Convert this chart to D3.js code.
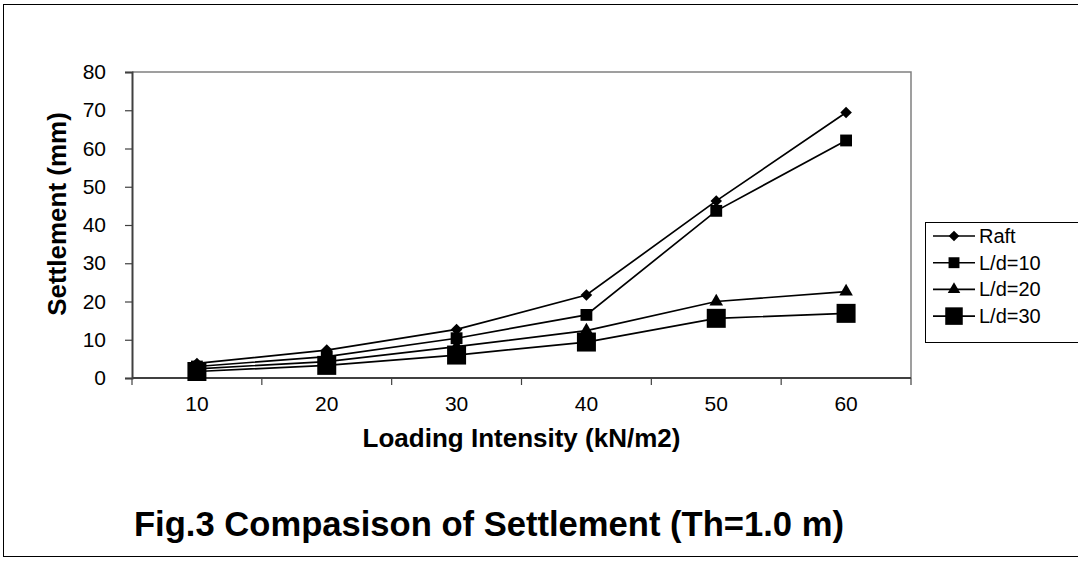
<!DOCTYPE html>
<html>
<head>
<meta charset="utf-8">
<script src="https://cdn.jsdelivr.net/npm/d3@7"></script>
<style>
  body { margin: 0; background: #fff; }
  svg text { font-family: "Liberation Sans", Arial, sans-serif; fill: #000; }
</style>
</head>
<body>
<svg id="mainFrame"></svg>
<script>
const loads = [10, 20, 30, 40, 50, 60]
const raft = [3.8, 7.3, 12.7, 21.7, 46.3, 69.4]
const ld10 = [3.0, 5.6, 10.4, 16.5, 43.7, 62.1]
const ld20 = [2.4, 4.3, 8.2, 12.4, 20.0, 22.6]
const ld30 = [1.7, 3.3, 6.0, 9.4, 15.6, 16.9]
const seriesNames = ['Raft', 'L/d=10', 'L/d=20', 'L/d=30']
const yTicks = [0, 10, 20, 30, 40, 50, 60, 70, 80]

const W = 1078, H = 561
const svg = d3.select('#mainFrame')
    .attr('width', W)
    .attr('height', H)

// outer frame
svg.append('rect')
    .attr('x', 3.5).attr('y', 4.5)
    .attr('width', W).attr('height', 552)
    .attr('fill', 'none').attr('stroke', '#000').attr('stroke-width', 1)

const plot = {left: 132, right: 911, top: 72, bottom: 378}

const x = d3.scaleBand()
    .domain(loads)
    .range([plot.left, plot.right])
const y = d3.scaleLinear()
    .domain([0, 80])
    .range([plot.bottom, plot.top])

// plot area border (top + right)
svg.append('path')
    .attr('d', `M${plot.left},${plot.top}H${plot.right}V${plot.bottom}`)
    .attr('fill', 'none').attr('stroke', '#808080').attr('stroke-width', 1.5)

// y axis
const yAxis = svg.append('g')
    .attr('transform', `translate(${plot.left},0)`)
    .call(d3.axisLeft(y).tickValues(yTicks).tickSize(7).tickPadding(19))
yAxis.select('.domain').attr('stroke', '#404040').attr('stroke-width', 2)
yAxis.selectAll('.tick line').attr('stroke', '#404040').attr('stroke-width', 1.2)
yAxis.selectAll('text').attr('font-size', 21)

// x axis: ticks between categories
const xAxis = svg.append('g')
    .attr('transform', `translate(0,${plot.bottom})`)
xAxis.append('line')
    .attr('x1', plot.left).attr('x2', plot.right)
    .attr('stroke', '#404040').attr('stroke-width', 2)
const bounds = loads.map(d => x(d)).concat([plot.right])
xAxis.selectAll('.xtick')
    .data(bounds)
    .join('line')
    .attr('class', 'xtick')
    .attr('x1', d => d).attr('x2', d => d)
    .attr('y1', 0).attr('y2', 7)
    .attr('stroke', '#404040').attr('stroke-width', 1.2)
xAxis.selectAll('.xlab')
    .data(loads)
    .join('text')
    .attr('class', 'xlab')
    .attr('x', d => x(d) + x.bandwidth() / 2)
    .attr('y', 33)
    .attr('text-anchor', 'middle')
    .attr('font-size', 21)
    .text(d => d)

// axis titles
svg.append('text')
    .attr('x', (plot.left + plot.right) / 2)
    .attr('y', 447)
    .attr('text-anchor', 'middle')
    .attr('font-size', 26)
    .attr('font-weight', 'bold')
    .text('Loading Intensity (kN/m2)')
svg.append('text')
    .attr('transform', 'translate(66,214) rotate(-90)')
    .attr('text-anchor', 'middle')
    .attr('font-size', 26)
    .attr('font-weight', 'bold')
    .text('Settlement (mm)')

// caption
svg.append('text')
    .attr('x', 134)
    .attr('y', 536)
    .attr('font-size', 34.6)
    .attr('font-weight', 'bold')
    .text('Fig.3 Compasison of Settlement (Th=1.0 m)')

// series
const cx = d => x(d) + x.bandwidth() / 2
const symbols = [
    {type: d3.symbolDiamond2, size: 85},
    {type: d3.symbolSquare, size: 140},
    {type: d3.symbolTriangle, size: 80},
    {type: d3.symbolSquare, size: 361}
]
const allSeries = [raft, ld10, ld20, ld30].map((vals, i) => ({
    name: seriesNames[i],
    values: vals.map((v, j) => ({load: loads[j], v: v})),
    sym: symbols[i]
}))

const line = d3.line()
    .x(d => cx(d.load))
    .y(d => y(d.v))

allSeries.forEach(s => {
    svg.append('path')
        .datum(s.values)
        .attr('d', line)
        .attr('fill', 'none')
        .attr('stroke', '#000')
        .attr('stroke-width', 1.7)
})
allSeries.forEach(s => {
    svg.append('g').selectAll('path')
        .data(s.values)
        .join('path')
        .attr('transform', d => `translate(${cx(d.load)},${y(d.v)})`)
        .attr('d', d3.symbol(s.sym.type, s.sym.size))
        .attr('fill', '#000')
})

// legend
const legend = svg.append('g').attr('transform', 'translate(925,222)')
legend.append('rect')
    .attr('x', 0.5).attr('y', 0.5)
    .attr('width', 160).attr('height', 120)
    .attr('fill', '#fff').attr('stroke', '#000').attr('stroke-width', 1)
const entry = legend.selectAll('g.entry')
    .data(allSeries)
    .join('g')
    .attr('class', 'entry')
    .attr('transform', (d, i) => `translate(0,${14 + i * 26.7})`)
entry.append('line')
    .attr('x1', 8).attr('x2', 50)
    .attr('stroke', '#000').attr('stroke-width', 1.6)
entry.append('path')
    .attr('transform', 'translate(29,0)')
    .attr('d', d => d3.symbol(d.sym.type, d.sym.size * 0.85)())
    .attr('fill', '#000')
entry.append('text')
    .attr('x', 54)
    .attr('dy', '0.35em')
    .attr('font-size', 20)
    .text(d => d.name)
</script>
</body>
</html>
